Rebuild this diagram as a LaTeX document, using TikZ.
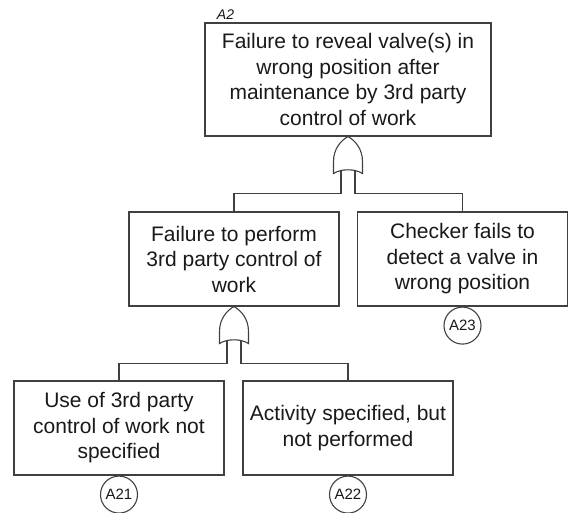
\documentclass[tikz,border=0pt]{standalone}
\usepackage{fontspec}
\setmainfont{Liberation Sans}
\usepackage{tikz}
\usetikzlibrary{positioning}
\newcommand{\boxfont}{\fontsize{10.5}{12.75}\selectfont}
\newcommand{\tagfont}{\fontsize{7.5}{8.5}\selectfont}

\tikzset{
  orgate/.pic={
    \draw (-7,30) -- (-7,57) coordinate (-l);
    \draw (7,30) -- (7,57) coordinate (-r);
    \draw[fill=white] (-14.5,37) -- (-14.5,25)
      .. controls (-14.5,12) and (-7,4) .. (0,0)
      .. controls (7,4) and (14.5,12) .. (14.5,25) -- (14.5,37)
      .. controls (7,32) and (-7,32) .. cycle;
  }
}

\begin{document}
\begin{tikzpicture}[x=0.5pt, y=-0.5pt, color=black!75, line width=0.55pt,
  event/.style={draw, rectangle, align=center, inner sep=2pt, font=\boxfont,
                text=black!90, minimum height=47pt, minimum width=105pt},
  tag/.style={draw, circle, inner sep=0pt, minimum size=18.5pt, font=\tagfont,
              text=black!90},
  lbl/.style={inner sep=1pt, font=\fontsize{7}{8}\selectfont\itshape,
              text=black!90}]
  \useasboundingbox (0,0) rectangle (570,513);
  % top event
  \node[event, minimum width=143pt, minimum height=56.5pt] (top) at (348,79.5)
    {Failure to reveal valve(s) in\\wrong position after\\
     maintenance by 3rd party\\control of work};
  \node[lbl, anchor=south west] (lblA2) at ([xshift=5pt]top.north west) {A2};
  % second level
  \node[event] (perf) at (234,259)
    {Failure to perform\\3rd party control of\\work};
  \node[event] (check) at (462.5,259)
    {Checker fails to\\detect a valve in\\wrong position};
  \node[tag, below=0pt of check] (a23) {A23};
  % third level
  \node[event] (spec) at (119,428)
    {Use of 3rd party\\control of work not\\specified};
  \node[event] (notperf) at (348,428)
    {Activity specified, but\\not performed};
  \node[tag, below=0pt of spec] (a21) {A21};
  \node[tag, below=0pt of notperf] (a22) {A22};
  % gates
  \pic (g1) at (top.south) {orgate};
  \pic (g2) at (perf.south) {orgate};
  \draw (g1-l) -| (perf.north);
  \draw (g1-r) -| (check.north);
  \draw (g2-l) -| (spec.north);
  \draw (g2-r) -| (notperf.north);
\end{tikzpicture}
\end{document}
